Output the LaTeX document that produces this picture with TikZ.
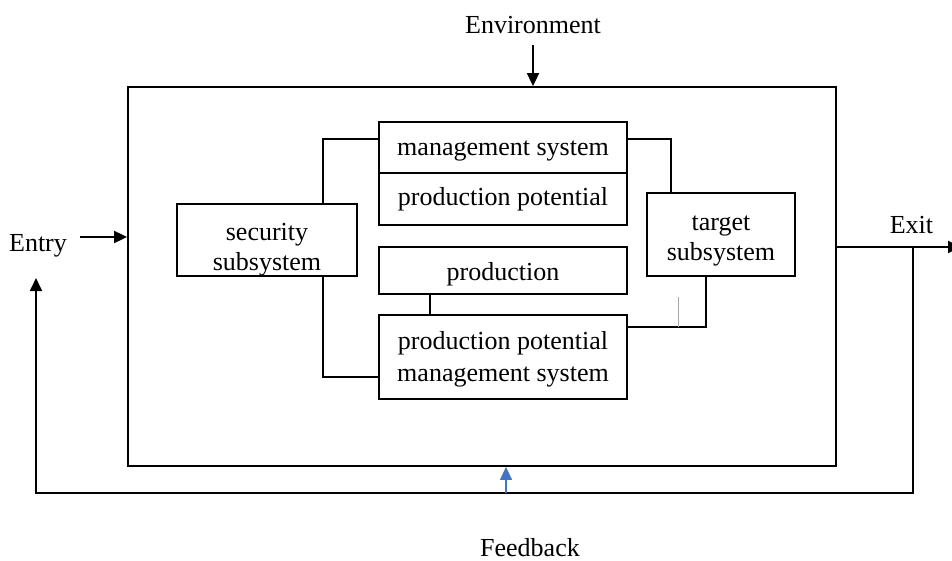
\documentclass[tikz,border=0pt]{standalone}
\usepackage{fontspec}
\setmainfont{Liberation Serif}
\usetikzlibrary{arrows.meta}
\definecolor{fbblue}{HTML}{4472C4}
\begin{document}
\begin{tikzpicture}[x=1pt,y=-1pt,
  line width=1.8pt,
  font=\fontsize{26}{30}\selectfont,
  box/.style={draw, rectangle, inner sep=0pt},
  txt/.style={inner sep=0pt, align=center},
  lbl/.style={inner sep=0pt},
  arr/.style={-{Triangle[length=13pt,width=12pt]}},
  link/.style={line width=1.8pt}]
\useasboundingbox (0,0) rectangle (952,561);

% the system boundary
\node[box, minimum width=708pt, minimum height=379pt] (sys) at (482,276.5) {};

% inner subsystems (frames)
\node[box, minimum width=180pt, minimum height=72pt] (sec) at (267,240) {};
\node[box, minimum width=148pt, minimum height=83pt] (tgt) at (721,234.5) {};
\node[box, minimum width=248pt, minimum height=51pt] (mgmt) at (503,147.5) {};
\node[box, minimum width=248pt, minimum height=52pt] (pot) at (503,199) {};
\node[box, minimum width=248pt, minimum height=47pt] (prod) at (503,270.5) {};
\node[box, minimum width=248pt, minimum height=84pt] (ppm) at (503,357) {};

% subsystem names
\node[txt] (sect) at (267,249.5) {security\\subsystem};
\node[txt] (tgtt) at (721,240.5) {target\\subsystem};
\node[txt] (mgmtt) at (503,151) {management system};
\node[txt] (pott) at (503,199) {production potential};
\node[txt] (prodt) at (503,274) {production};
\node[txt, font=\fontsize{26}{31.5}\selectfont] (ppmt) at (503,359.5) {production potential\\management system};

% links between subsystems
\draw[link] ([xshift=-35pt]sec.north east) |- ([yshift=8.5pt]mgmt.west);
\draw[link] ([yshift=8.5pt]mgmt.east) -| ([xshift=25pt]tgt.north west);
\draw[link] ([xshift=-35pt]sec.south east) |- ([yshift=-20pt]ppm.west);
\draw[link] ([xshift=-73pt]prod.south) -- ([xshift=-73pt]ppm.north);
\draw[link] ([yshift=30pt]ppm.east) -| ([xshift=60pt]tgt.south west);
\coordinate (g1) at (678,297);
\coordinate (g2) at (678,327);
\draw[gray!70, line width=0.6pt] (g1) -- (g2);

% environment input
\node[lbl] (env) at (533,25) {Environment};
\coordinate (envtail) at (533,45);
\draw[arr] (envtail) -- (envtail |- sys.north);

% entry
\node[lbl] (entry) at (38,246) {Entry};
\coordinate (entail) at (80,237);
\draw[arr] (entail) -- (entail -| sys.west);

% exit
\node[lbl] (exit) at (911.5,225) {Exit};
\coordinate (exstart) at (836,247);
\coordinate (extip) at (961,247);
\draw[arr] (exstart) -- (extip);

% feedback loop
\coordinate (fbr) at (913,247);
\coordinate (fbrb) at (913,493);
\coordinate (fblb) at (36,493);
\coordinate (fbtip) at (36,278);
\draw[arr] (fbr) -- (fbrb) -- (fblb) -- (fbtip);
\coordinate (fbb) at (506,493);
\draw[arr, fbblue, line width=1.2pt] (fbb) -- (fbb |- sys.south);
\node[lbl] (fb) at (530,548) {Feedback};
\end{tikzpicture}
\end{document}
